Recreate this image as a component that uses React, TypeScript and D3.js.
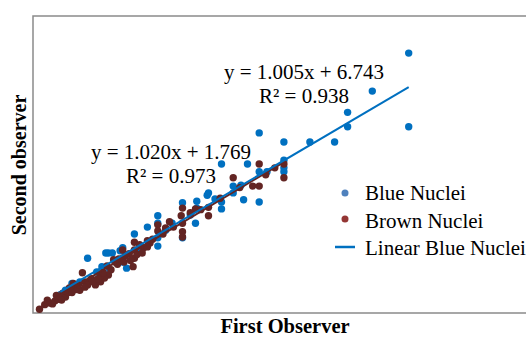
import React from 'react'
import * as d3 from 'd3'

// blue nuclei: [first observer, second observer]
const blueNuclei: [number, number][] = [
  [289, 342], [261, 292], [242, 264], [242, 245], [289, 245], [232, 225], [213, 225],
  [193, 225], [174, 237], [193, 201], [193, 191], [193, 186], [145, 196], [165, 196],
  [174, 186], [154, 167], [154, 158], [135, 158], [162, 149], [174, 146], [126, 147],
  [145, 146], [126, 138], [145, 137], [134, 155], [115, 145], [96, 128], [107, 118],
  [96, 118], [88, 113], [78, 104], [96, 99], [96, 88], [115, 99], [125, 118], [67, 82],
  [61, 79], [69, 67], [42, 72], [56, 79], [58, 79], [69, 86], [72, 59], [53, 61],
  [49, 54], [30, 39], [21, 24], [36, 41], [25, 30], [59, 57], [82, 83], [102, 109],
  [121, 129], [140, 150], [160, 168], [180, 186],
]

// brown nuclei
const brownNuclei: [number, number][] = [
  [5, 5], [9, 11], [11, 17], [13, 13], [19, 20], [23, 26], [28, 33], [34, 34], [31, 39],
  [38, 53], [44, 43], [40, 41], [48, 37], [52, 41], [58, 50], [62, 70], [69, 72], [69, 83],
  [78, 83], [78, 72], [78, 93], [88, 95], [90, 92], [96, 116], [115, 138], [114, 128],
  [115, 118], [115, 107], [135, 139], [125, 137], [135, 128], [154, 178], [169, 167],
  [174, 167], [174, 196], [193, 196], [193, 178], [115, 100], [77, 61], [96, 108],
  [57, 62], [63, 67], [71, 75], [82, 90], [102, 112], [105, 120], [121, 132], [129, 136],
  [144, 151], [159, 165], [179, 182], [186, 191], [55, 46], [42, 37], [36, 30], [25, 21],
  [17, 16], [52, 49], [45, 45], [33, 31], [65, 64], [74, 78], [85, 86], [92, 97],
  [100, 104], [108, 113], [20, 18], [27, 27],
  [15, 12], [18, 23], [22, 17], [30, 27], [35, 37], [40, 34], [46, 41], [50, 45],
  [54, 53], [60, 57], [66, 71], [70, 67], [75, 69], [80, 77], [84, 79], [88, 87],
]

const blueFit = { slope: 1.005, intercept: 6.743, r2: '0.938' }
const brownFit = { slope: 1.02, intercept: 1.769, r2: '0.973' }

const legendItems = ['Blue Nuclei', 'Brown Nuclei', 'Linear Blue Nuclei']

const BLUE = '#0070C0'
const BROWN = '#632523'

export default function App() {
  const width = 526
  const height = 338
  const x = d3.scaleLinear().domain([0, 380]).range([33, 527])
  const y = d3.scaleLinear().domain([0, 390]).range([313, 16.6])

  const fitLine = (pts: [number, number][], fit: { slope: number; intercept: number }) => {
    const [x0, x1] = d3.extent(pts, (d) => d[0]) as [number, number]
    const line = d3.line<number>().x((v) => x(v)).y((v) => y(fit.slope * v + fit.intercept))
    return line([x0, x1]) || ''
  }

  const font = '"Liberation Serif", "Times New Roman", serif'

  return (
    <svg
      width={width}
      height={height}
      style={{ position: 'absolute', left: 0, top: 0, background: '#fff' }}
      fontFamily={font}
    >
      <rect x={33} y={16} width={510} height={297} fill="none" stroke="#8a8a8a" strokeWidth={1.5} />

      {blueNuclei.map((d, i) => (
        <circle key={'b' + i} cx={x(d[0])} cy={y(d[1])} r={3.7} fill={BLUE} />
      ))}
      {brownNuclei.map((d, i) => (
        <circle key={'r' + i} cx={x(d[0])} cy={y(d[1])} r={3.7} fill={BROWN} />
      ))}

      <path d={fitLine(brownNuclei, brownFit)} stroke={BROWN} strokeWidth={2} fill="none" />
      <path d={fitLine(blueNuclei, blueFit)} stroke={BLUE} strokeWidth={2} fill="none" />

      {/* equations */}
      <g fontSize={21} textAnchor="middle" fill="#000">
        <text x={304} y={79}>y = {blueFit.slope.toFixed(3)}x + {blueFit.intercept.toFixed(3)}</text>
        <text x={304} y={103}>R² = {blueFit.r2}</text>
        <text x={171} y={159}>y = {brownFit.slope.toFixed(3)}x + {brownFit.intercept.toFixed(3)}</text>
        <text x={171} y={183}>R² = {brownFit.r2}</text>
      </g>

      {/* legend */}
      <g fontSize={21} fill="#000">
        <circle cx={345} cy={193} r={3.5} fill="#4F81BD" />
        <circle cx={345} cy={219} r={3.5} fill="#943634" />
        <line x1={335} x2={355} y1={247} y2={247} stroke={BLUE} strokeWidth={2.5} />
        {legendItems.map((t, i) => (
          <text key={t} x={365} y={200 + i * 27.5}>{t}</text>
        ))}
      </g>

      <text x={285} y={333} fontSize={20.5} fontWeight="bold" textAnchor="middle">First Observer</text>
      <text
        transform="translate(26,165) rotate(-90)"
        fontSize={20}
        fontWeight="bold"
        textAnchor="middle"
      >
        Second observer
      </text>
    </svg>
  )
}
